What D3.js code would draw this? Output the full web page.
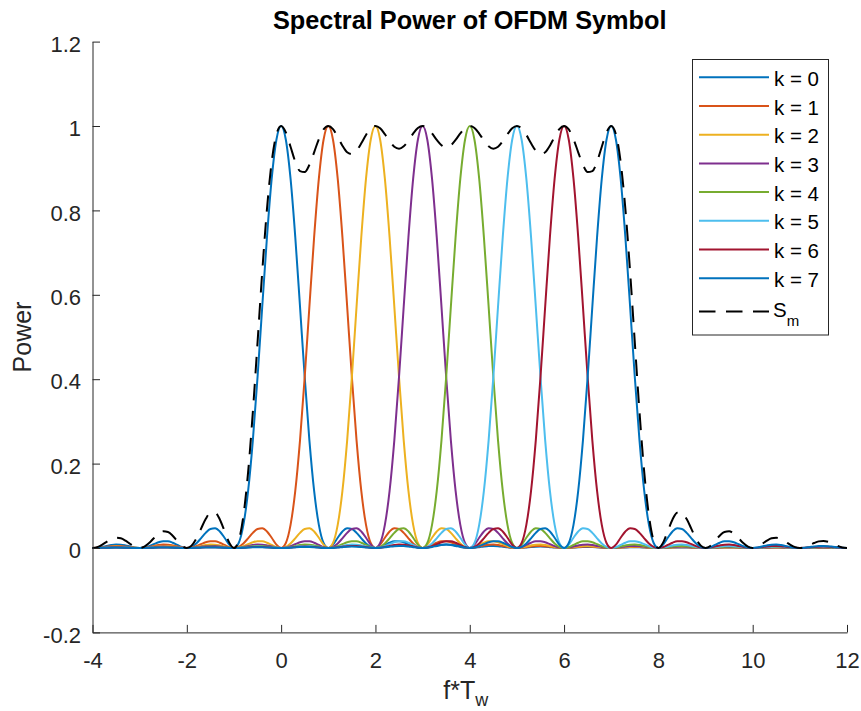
<!DOCTYPE html>
<html><head><meta charset="utf-8">
<script src="https://cdn.jsdelivr.net/npm/d3@7"></script>
<style>
body{margin:0;background:#fff}
text{font-family:"Liberation Sans",Arial,Helvetica,sans-serif}
</style>
</head><body>
<svg id="c" width="861" height="711"></svg>
<script>
// ---- data ----
const carriers = [0, 1, 2, 3, 4, 5, 6, 7];
const seriesNames = ["k = 0", "k = 1", "k = 2", "k = 3", "k = 4", "k = 5", "k = 6", "k = 7"];
const colors = ["#0072BD", "#D95319", "#EDB120", "#7E2F8E", "#77AC30", "#4DBEEE", "#A2142F", "#0072BD"];
// subcarrier power shape vs. distance |f*T_w - k| sampled every 0.1 (0 .. 12)
const pulse = [
  1, 0.96753, 0.87514, 0.73684, 0.57279, 0.40528, 0.25457, 0.13534, 0.05470, 0.01195,
  0, 0.00800, 0.02431, 0.03924, 0.04676, 0.04503, 0.03580, 0.02295, 0.01080, 0.00268,
  0, 0.00219, 0.00723, 0.01254, 0.01591, 0.01621, 0.01356, 0.00910, 0.00447, 0.00115,
  0, 0.00101, 0.00342, 0.00609, 0.00793, 0.00827, 0.00707, 0.00484, 0.00242, 0.00064,
  0, 0.00058, 0.00198, 0.00359, 0.00473, 0.00500, 0.00433, 0.00300, 0.00152, 0.00040,
  0, 0.00037, 0.00130, 0.00236, 0.00314, 0.00335, 0.00292, 0.00204, 0.00104, 0.00028,
  0, 0.00026, 0.00091, 0.00167, 0.00224, 0.00240, 0.00210, 0.00148, 0.00076, 0.00020,
  0, 0.00019, 0.00068, 0.00124, 0.00167, 0.00180, 0.00159, 0.00112, 0.00058, 0.00016,
  0, 0.00015, 0.00052, 0.00096, 0.00130, 0.00140, 0.00124, 0.00088, 0.00045, 0.00012,
  0, 0.00012, 0.00041, 0.00077, 0.00104, 0.00112, 0.00099, 0.00071, 0.00036, 0.00010,
  0, 0.00010, 0.00034, 0.00063, 0.00085, 0.00092, 0.00082, 0.00058, 0.00030, 0.00008,
  0, 0.00008, 0.00028, 0.00052, 0.00071, 0.00077, 0.00068, 0.00048, 0.00025, 0.00007,
  0
];
// S_m sampled at f*T_w = -4.0, -3.9, ..., 12.0
const sumPower = [
  0, 0.00198, 0.00743, 0.01465, 0.02106, 0.02426, 0.02290, 0.01731, 0.00956, 0.00278,
  0, 0.00305, 0.01160, 0.02317, 0.03380, 0.03955, 0.03796, 0.02922, 0.01645, 0.00487,
  0, 0.00563, 0.02204, 0.04541, 0.06861, 0.08346, 0.08368, 0.06769, 0.04035, 0.01275,
  0, 0.01746, 0.07629, 0.17987, 0.32194, 0.48734, 0.65517, 0.80357, 0.91497, 0.98013,
  1, 0.98483, 0.95085, 0.91559, 0.89314, 0.89082, 0.90807, 0.93767, 0.96899, 0.99189,
  1, 0.99263, 0.97440, 0.95335, 0.93780, 0.93345, 0.94163, 0.95895, 0.97888, 0.99431,
  1, 0.99454, 0.98059, 0.96385, 0.95079, 0.94631, 0.95205, 0.96569, 0.98205, 0.99509,
  1, 0.99515, 0.98249, 0.96694, 0.95439, 0.94958, 0.95439, 0.96694, 0.98249, 0.99515,
  1, 0.99509, 0.98205, 0.96569, 0.95205, 0.94631, 0.95079, 0.96385, 0.98059, 0.99454,
  1, 0.99431, 0.97888, 0.95895, 0.94163, 0.93345, 0.93780, 0.95335, 0.97440, 0.99263,
  1, 0.99189, 0.96899, 0.93767, 0.90807, 0.89082, 0.89314, 0.91559, 0.95085, 0.98483,
  1, 0.98013, 0.91497, 0.80357, 0.65517, 0.48734, 0.32194, 0.17987, 0.07629, 0.01746,
  0, 0.01275, 0.04035, 0.06769, 0.08368, 0.08346, 0.06861, 0.04541, 0.02204, 0.00563,
  0, 0.00487, 0.01645, 0.02922, 0.03796, 0.03955, 0.03380, 0.02317, 0.01160, 0.00305,
  0, 0.00278, 0.00956, 0.01731, 0.02290, 0.02426, 0.02106, 0.01465, 0.00743, 0.00198,
  0, 0.00185, 0.00642, 0.01174, 0.01568, 0.01676, 0.01467, 0.01029, 0.00526, 0.00141,
  0
];
const xTicks = [-4, -2, 0, 2, 4, 6, 8, 10, 12];
const xTickLabels = ["-4", "-2", "0", "2", "4", "6", "8", "10", "12"];
const yTicks = [-0.2, 0, 0.2, 0.4, 0.6, 0.8, 1, 1.2];
const yTickLabels = ["-0.2", "0", "0.2", "0.4", "0.6", "0.8", "1", "1.2"];
const freqs = d3.range(-40, 121).map(i => i / 10);

// ---- drawing ----
const svg = d3.select("#c");
const axisColor = "#262626";
const x = d3.scaleLinear().domain([-4, 12]).range([92.5, 847]);
const y = d3.scaleLinear().domain([-0.2, 1.2]).range([632.4, 41.6]);

const line = d3.line().x(d => x(d[0])).y(d => y(d[1])).curve(d3.curveMonotoneX);

const plot = svg.append("g");
carriers.forEach((k, i) => {
  const pts = freqs.map(f => [f, pulse[Math.round(Math.abs(f - k) * 10)]]);
  plot.append("path").datum(pts)
    .attr("d", line).attr("fill", "none")
    .attr("stroke", colors[i]).attr("stroke-width", 2);
});
plot.append("path").datum(freqs.map((f, i) => [f, sumPower[i]]))
  .attr("d", line).attr("fill", "none")
  .attr("stroke", "#000").attr("stroke-width", 2)
  .attr("stroke-dasharray", "16.5,10.5");

// axes
const gx = svg.append("g").attr("transform", `translate(0,${y(-0.2)})`)
  .call(d3.axisBottom(x).tickValues(xTicks).tickFormat((d, i) => xTickLabels[i])
    .tickSizeInner(-7.5).tickSizeOuter(0).tickPadding(0));
gx.select(".domain").attr("stroke", axisColor);
gx.selectAll(".tick line").attr("stroke", axisColor);
gx.selectAll(".tick text").attr("fill", axisColor).attr("font-size", 22)
  .attr("font-family", null).attr("y", 35.5).attr("dy", null);

const gy = svg.append("g").attr("transform", `translate(${x(-4)},0)`)
  .call(d3.axisLeft(y).tickValues(yTicks).tickFormat((d, i) => yTickLabels[i])
    .tickSizeInner(-7.5).tickSizeOuter(0).tickPadding(11.5));
gy.select(".domain").attr("stroke", axisColor);
gy.selectAll(".tick line").attr("stroke", axisColor);
gy.selectAll(".tick text").attr("fill", axisColor).attr("font-size", 22)
  .attr("font-family", null).attr("dy", "0.44em");

// title & labels
svg.append("text").attr("x", (x(-4) + x(12)) / 2).attr("y", 29)
  .attr("text-anchor", "middle").attr("font-weight", "bold").attr("font-size", 25.3)
  .attr("fill", "#000").text("Spectral Power of OFDM Symbol");

svg.append("text").attr("transform", `translate(31,${(y(-0.2) + y(1.2)) / 2}) rotate(-90)`)
  .attr("text-anchor", "middle").attr("font-size", 25).attr("fill", axisColor).text("Power");

const xl = svg.append("text").attr("x", (x(-4) + x(12)) / 2 - 4).attr("y", 699)
  .attr("text-anchor", "middle").attr("font-size", 25).attr("fill", axisColor);
xl.append("tspan").text("f*T");
xl.append("tspan").attr("font-size", 18).attr("dy", 6.5).text("w");

// legend
const lg = svg.append("g");
lg.append("rect").attr("x", 692.5).attr("y", 59.5).attr("width", 136).attr("height", 275.5)
  .attr("fill", "#fff").attr("stroke", axisColor).attr("stroke-width", 1);
const rowY = [77.3, 106, 134.7, 163.4, 192.1, 220.8, 249.5, 278.2];
seriesNames.forEach((name, i) => {
  lg.append("line").attr("x1", 699).attr("x2", 769).attr("y1", rowY[i]).attr("y2", rowY[i])
    .attr("stroke", colors[i]).attr("stroke-width", 2);
  lg.append("text").attr("x", 774).attr("y", rowY[i] + 8.5).attr("font-size", 20.5)
    .attr("fill", "#000").text(name);
});
lg.append("line").attr("x1", 699).attr("x2", 769).attr("y1", 311.5).attr("y2", 311.5)
  .attr("stroke", "#000").attr("stroke-width", 2).attr("stroke-dasharray", "16.5,10.5");
const sm = lg.append("text").attr("x", 773).attr("y", 316.5).attr("font-size", 20.5).attr("fill", "#000");
sm.append("tspan").text("S");
sm.append("tspan").attr("font-size", 15).attr("dy", 9).text("m");
</script>
</body></html>
